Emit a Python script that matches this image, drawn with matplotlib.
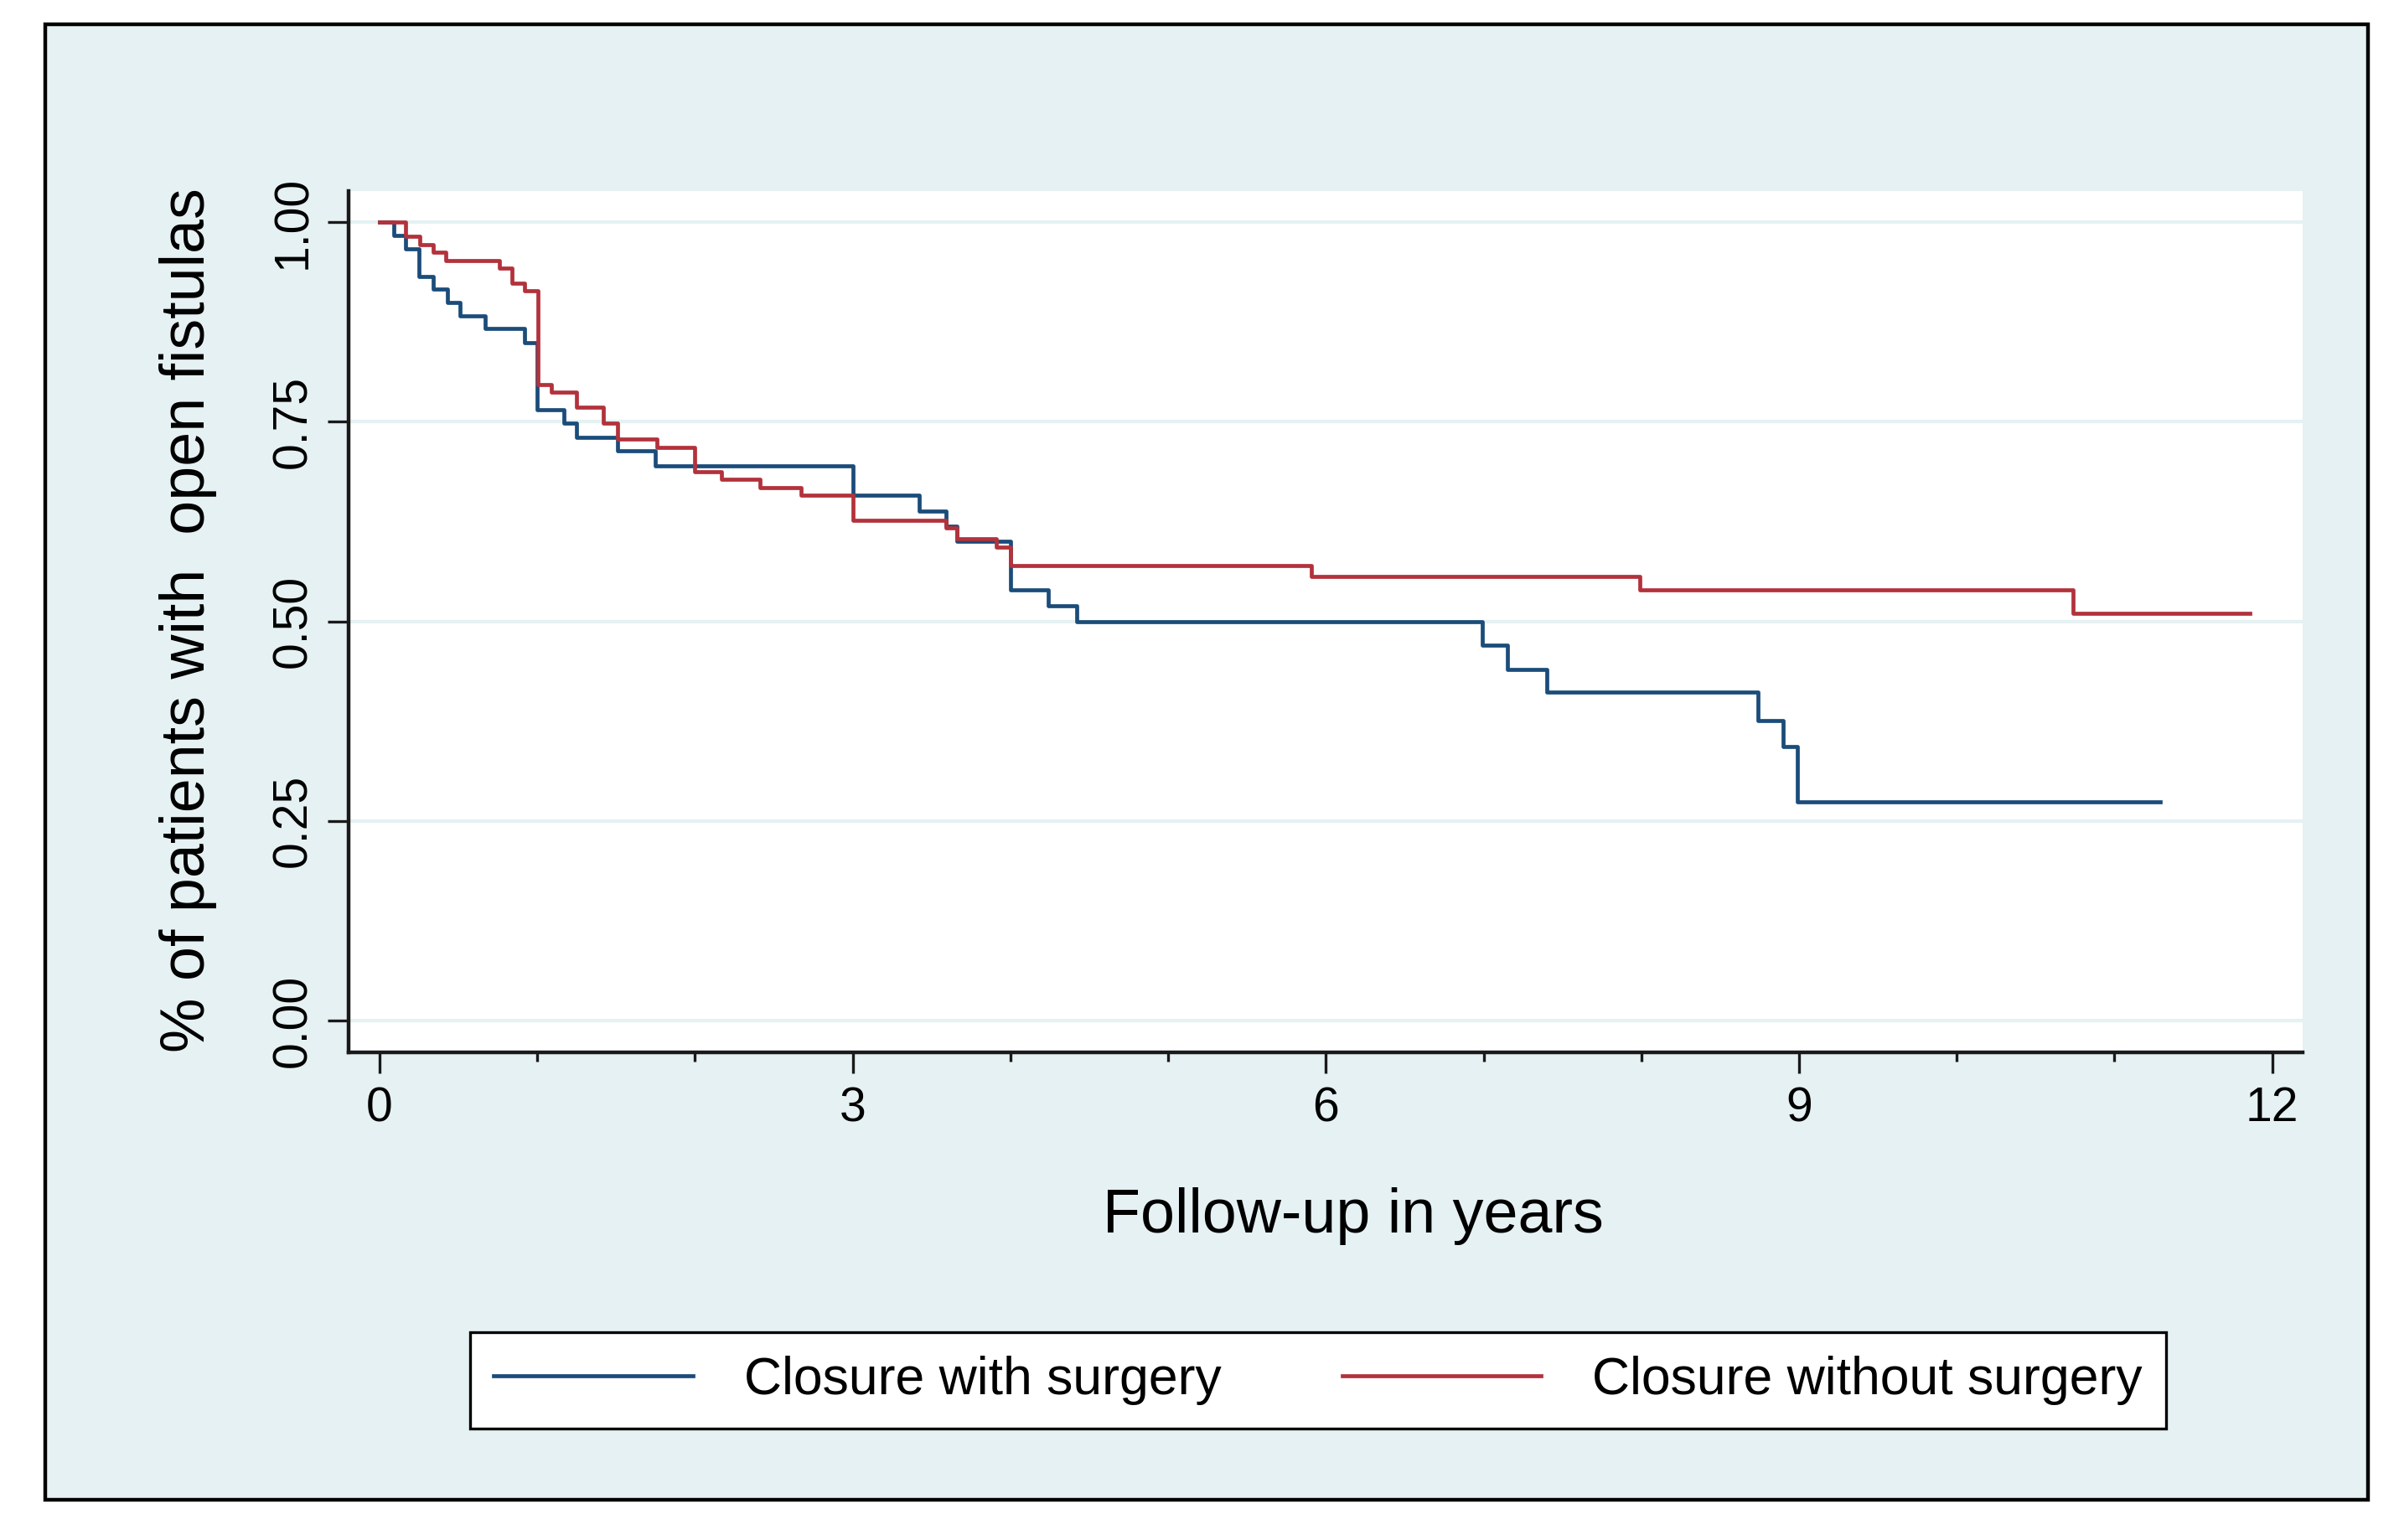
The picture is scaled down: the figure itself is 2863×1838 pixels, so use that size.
import numpy as np
import matplotlib
matplotlib.use('Agg')
import matplotlib.pyplot as plt
from matplotlib.patches import Rectangle

plt.rcParams['font.family'] = ['Liberation Sans', 'DejaVu Sans']

# Kaplan-Meier estimates (years, survival)
t_cirugia = [0, 0.09, 0.165, 0.25, 0.34, 0.43, 0.51, 0.67, 0.92, 1.0, 1.17, 1.25,
             1.51, 1.75, 3.0, 3.42, 3.59, 3.66, 4.0, 4.24, 4.42, 6.99, 7.15, 7.40,
             8.74, 8.90, 8.99, 11.29]
s_cirugia = [1.0, 0.983, 0.967, 0.932, 0.916, 0.90, 0.883, 0.867, 0.849, 0.765, 0.748, 0.73,
             0.714, 0.695, 0.658, 0.638, 0.619, 0.600, 0.540, 0.520, 0.50, 0.470, 0.440, 0.411,
             0.376, 0.343, 0.274, 0.274]

t_sin_cirugia = [0, 0.165, 0.255, 0.34, 0.42, 0.76, 0.84, 0.92, 1.005, 1.09, 1.25, 1.42,
                 1.51, 1.76, 2.0, 2.17, 2.41, 2.67, 3.0, 3.59, 3.66, 3.91, 4.0, 5.91,
                 7.99, 10.74, 11.86]
s_sin_cirugia = [1.0, 0.982, 0.972, 0.962, 0.952, 0.943, 0.924, 0.914, 0.797, 0.787, 0.768, 0.748,
                 0.728, 0.718, 0.688, 0.678, 0.668, 0.658, 0.627, 0.617, 0.603, 0.593, 0.570, 0.556,
                 0.540, 0.5105, 0.5105]

etiquetas = ['Closure with surgery', 'Closure without surgery']
colores = ['#1b4c7a', '#b2323c']

xticks = [0, 3, 6, 9, 12]
xticks_menores = [1, 2, 4, 5, 7, 8, 10, 11]
yticks = [0.0, 0.25, 0.50, 0.75, 1.00]
ytick_labels = ['0.00', '0.25', '0.50', '0.75', '1.00']

fondo = '#e5f1f2'

fig = plt.figure(figsize=(28.63, 18.38), dpi=100, facecolor='white')

# marco exterior
marco = Rectangle((0.0189, 0.0261), 0.9682, 0.9581, transform=fig.transFigure,
                  facecolor=fondo, edgecolor='black', linewidth=3.2, zorder=-10)
fig.patches.append(marco)

ax = fig.add_axes([0.1453, 0.3166, 0.8145, 0.5593])
ax.set_facecolor('white')

for y in yticks:
    ax.axhline(y, color=fondo, linewidth=3, zorder=0)

ax.step(t_cirugia, s_cirugia, where='post', color=colores[0], linewidth=3.4, label=etiquetas[0])
ax.step(t_sin_cirugia, s_sin_cirugia, where='post', color=colores[1], linewidth=3.4, label=etiquetas[1])

ax.set_xlim(-0.197, 12.193)
ax.set_ylim(-0.04, 1.039)

ax.set_xticks(xticks)
ax.set_xticks(xticks_menores, minor=True)
ax.set_yticks(yticks)
ax.set_yticklabels(ytick_labels, rotation=90, va='center')

ax.tick_params(axis='both', which='major', direction='out', length=18, width=2.4,
               labelsize=41, color='#1a1a1a')
ax.tick_params(axis='x', which='major', pad=11)
ax.tick_params(axis='y', which='major', pad=10)
ax.tick_params(axis='x', which='minor', direction='out', length=8, width=2.4, color='#1a1a1a')

for lado in ['top', 'right']:
    ax.spines[lado].set_visible(False)
for lado in ['left', 'bottom']:
    ax.spines[lado].set_linewidth(3.2)
    ax.spines[lado].set_color('#1a1a1a')

ax.set_xlabel('Follow-up in years', fontsize=53, va='center')
ax.xaxis.set_label_coords(0.514, -0.19)
ax.set_ylabel('% of patients with  open fistulas', fontsize=53, va='center')
ax.yaxis.set_label_coords(-0.0822, 0.502)

leg = ax.legend(loc='center', bbox_to_anchor=(0.5495, 0.1035), bbox_transform=fig.transFigure,
                ncol=2, fontsize=45, handlelength=3.8, handletextpad=0.98,
                columnspacing=2.3, borderpad=0.45, fancybox=False, framealpha=1,
                edgecolor='black', facecolor='white')
leg.get_frame().set_linewidth(2.4)
for linea in leg.get_lines():
    linea.set_linewidth(3.4)

fig.savefig('out.png', dpi=100, facecolor='white')
